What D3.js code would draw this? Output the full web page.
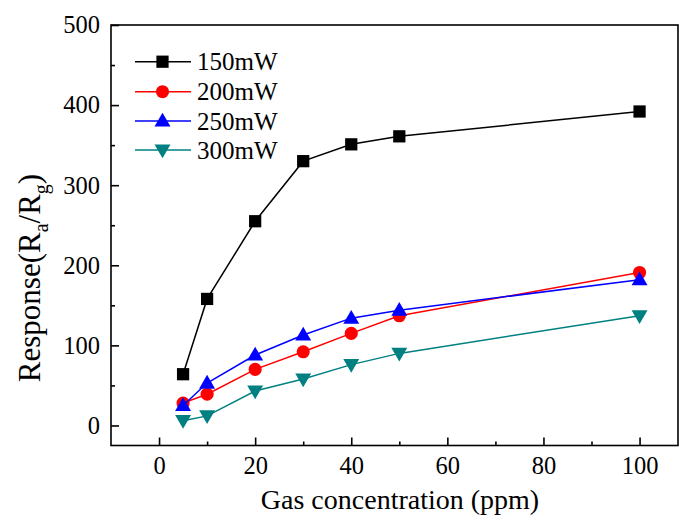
<!DOCTYPE html>
<html>
<head>
<meta charset="utf-8">
<script src="https://cdn.jsdelivr.net/npm/d3@7"></script>
<style>
  body { margin: 0; background: #fff; }
  svg { display: block; }
  text { font-family: "Liberation Serif", "Times New Roman", serif; }
</style>
</head>
<body>
<svg id="chart" width="679" height="522"></svg>
<script>
const concentrations = [5, 10, 20, 30, 40, 50, 100];
const seriesNames = ["150mW", "200mW", "250mW", "300mW"];
const response150 = [64, 158, 255, 330, 351, 361, 392];
const response200 = [28, 39, 70, 92, 115, 137, 191];
const response250 = [25, 53, 88, 113, 134, 144, 182];
const response300 = [6, 12, 43, 58, 76, 90, 137];
const xMajorTicks = [0, 20, 40, 60, 80, 100];
const xMinorTicks = [10, 30, 50, 70, 90];
const yMajorTicks = [0, 100, 200, 300, 400, 500];
const yMinorTicks = [50, 150, 250, 350, 450];
const colors = ["#000000", "#ff0000", "#0000ff", "#008080"];
const symbols = ["square", "circle", "triangle", "triangleDown"];

const seriesValues = [response150, response200, response250, response300];

const svg = d3.select("#chart");
const mLeft = 111, mRight = 678, mTop = 25, mBottom = 445.5;

const x = d3.scaleLinear().domain([-10, 108]).range([mLeft, mRight]);
const y = d3.scaleLinear().domain([-25, 500]).range([mBottom, mTop]);

// frame
svg.append("rect")
  .attr("x", mLeft).attr("y", mTop)
  .attr("width", mRight - mLeft).attr("height", mBottom - mTop)
  .attr("fill", "none").attr("stroke", "#000").attr("stroke-width", 1.6);

// x axis major
const gx = svg.append("g").attr("transform", `translate(0,${mBottom})`)
  .call(d3.axisBottom(x).tickValues(xMajorTicks).tickSizeInner(-8).tickSizeOuter(0).tickPadding(11).tickFormat(d3.format("d")));
gx.select(".domain").remove();
gx.selectAll("line").attr("stroke-width", 1.6);
gx.selectAll("text").attr("font-size", 24.5).attr("fill", "#000");

const gxm = svg.append("g").attr("transform", `translate(0,${mBottom})`)
  .call(d3.axisBottom(x).tickValues(xMinorTicks).tickSizeInner(-4).tickSizeOuter(0).tickFormat(""));
gxm.select(".domain").remove();
gxm.selectAll("line").attr("stroke-width", 1.6);

// y axis major
const gy = svg.append("g").attr("transform", `translate(${mLeft},0)`)
  .call(d3.axisLeft(y).tickValues(yMajorTicks).tickSizeInner(-8).tickSizeOuter(0).tickPadding(11).tickFormat(d3.format("d")));
gy.select(".domain").remove();
gy.selectAll("line").attr("stroke-width", 1.6);
gy.selectAll("text").attr("font-size", 24.5).attr("fill", "#000");

const gym = svg.append("g").attr("transform", `translate(${mLeft},0)`)
  .call(d3.axisLeft(y).tickValues(yMinorTicks).tickSizeInner(-4).tickSizeOuter(0).tickFormat(""));
gym.select(".domain").remove();
gym.selectAll("line").attr("stroke-width", 1.6);

// axis titles
svg.append("text")
  .attr("x", 400).attr("y", 509)
  .attr("text-anchor", "middle").attr("font-size", 28)
  .text("Gas concentration (ppm)");

const yt = svg.append("text")
  .attr("transform", "translate(40,278) rotate(-90)")
  .attr("text-anchor", "middle").attr("font-size", 31);
yt.append("tspan").text("Response(R");
yt.append("tspan").attr("font-size", 20).attr("dy", 8).text("a");
yt.append("tspan").attr("dy", -8).text("/R");
yt.append("tspan").attr("font-size", 20).attr("dy", 8).text("g");
yt.append("tspan").attr("dy", -8).text(")");

const symbolTypes = {
  square: d3.symbolSquare,
  circle: d3.symbolCircle,
  triangle: d3.symbolTriangle,
  triangleDown: d3.symbolTriangle
};
const symbolSizes = { square: 150, circle: 135, triangle: 110, triangleDown: 110 };

function drawMarker(g, kind, color, cx, cy) {
  const path = d3.symbol().type(symbolTypes[kind]).size(symbolSizes[kind])();
  const yOff = kind === "triangle" ? 1 : (kind === "triangleDown" ? -1 : 0);
  g.append("path")
    .attr("d", path)
    .attr("transform", `translate(${cx},${cy + yOff})` + (kind === "triangleDown" ? " rotate(180)" : ""))
    .attr("fill", color);
}

const line = d3.line().x((d, i) => x(concentrations[i])).y(d => y(d));

seriesValues.forEach((vals, si) => {
  const g = svg.append("g");
  g.append("path").datum(vals)
    .attr("d", line).attr("fill", "none")
    .attr("stroke", colors[si]).attr("stroke-width", 1.5);
  vals.forEach((v, i) => drawMarker(g, symbols[si], colors[si], x(concentrations[i]), y(v)));
});

// legend
const legendRows = [61.7, 91.7, 121, 150];
seriesNames.forEach((name, si) => {
  const g = svg.append("g");
  const ly = legendRows[si];
  g.append("line").attr("x1", 135).attr("x2", 191).attr("y1", ly).attr("y2", ly)
    .attr("stroke", colors[si]).attr("stroke-width", 1.5);
  drawMarker(g, symbols[si], colors[si], 162.5, ly);
  g.append("text").attr("x", 197).attr("y", ly).attr("dy", "0.35em")
    .attr("font-size", 25).text(name);
});
</script>
</body>
</html>
